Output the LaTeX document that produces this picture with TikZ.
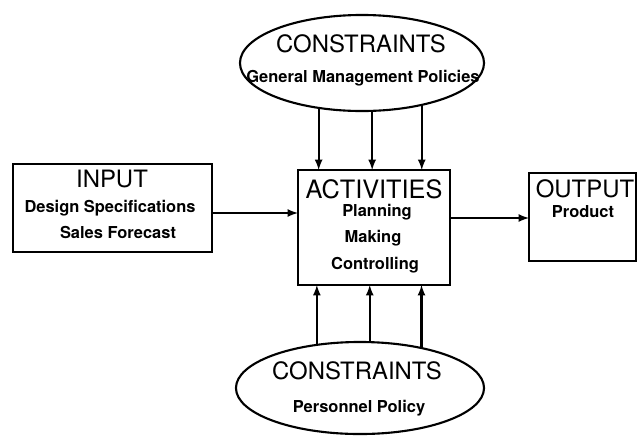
\documentclass[tikz,border=0pt]{standalone}
\usepackage{fontspec}
\setmainfont{TeX Gyre Heros}
\usetikzlibrary{shapes.geometric}

\tikzset{
  box/.style={shape=rectangle,draw=black,line width=1.5pt,outer sep=0pt},
  oval/.style={shape=ellipse,draw=black,line width=1.5pt,outer sep=0pt,inner sep=0pt},
  head/.style={font=\fontsize{17}{20}\selectfont},
  sub/.style={font=\bfseries\fontsize{11.7}{13}\selectfont},
  arr/.style={-latex,line width=1.5pt},
}

\begin{document}
\begin{tikzpicture}[x=0.025cm,y=-0.025cm]
        \useasboundingbox (0,0) rectangle (638,436);

        \node[box,minimum width=4.975cm,minimum height=2.2cm] (input) at (112.5,208) {};
        \node[box,minimum width=3.8cm,minimum height=2.875cm] (act) at (374,227.5) {};
        \node[box,minimum width=2.675cm,minimum height=2.2cm] (output) at (582.5,217) {};
        \node[oval,minimum width=6.1cm,minimum height=2.4cm] (topc) at (362,63) {};
        \node[oval,minimum width=6.2cm,minimum height=2.3cm] (botc) at (360,388) {};

        % texts
        \node[head] (inhd) at (112,179) {INPUT};
        \node[sub] (in1) at (110,208) {Design Specifications};
        \node[sub] (in2) at (118,232) {Sales Forecast};
        \node[head,font=\fontsize{18}{20}\selectfont] (acthd) at (374,189) {ACTIVITIES};
        \node[sub] (act1) at (377,212) {Planning};
        \node[sub] (act2) at (373,238) {Making};
        \node[sub] (act3) at (375,265) {Controlling};
        \node[head] (outhd) at (585,189) {OUTPUT};
        \node[sub] (out1) at (583,212) {Product};
        \node[head] (tophd) at (361,44) {CONSTRAINTS};
        \node[sub] (top1) at (363,78) {General Management Policies};
        \node[head] (bothd) at (357,371) {CONSTRAINTS};
        \node[sub] (bot1) at (359,408) {Personnel Policy};

        \coordinate (inarr) at (212.5,213);
        \coordinate (outarr) at (450,218);
        \draw[arr] (inarr) -- (inarr -| act.west);
        \draw[arr] (outarr) -- (outarr -| output.west);

        \draw[arr] (topc.226) -- (topc.226 |- act.north);
        \draw[arr] (topc.282) -- (topc.282 |- act.north);
        \draw[arr] (topc.325) -- (topc.325 |- act.north);
        \draw[arr] (botc.135) -- (botc.135 |- act.south);
        \draw[arr] (botc.78) -- (botc.78 |- act.south);
        \draw[arr] (botc.33) -- (botc.33 |- act.south);
\end{tikzpicture}
\end{document}
